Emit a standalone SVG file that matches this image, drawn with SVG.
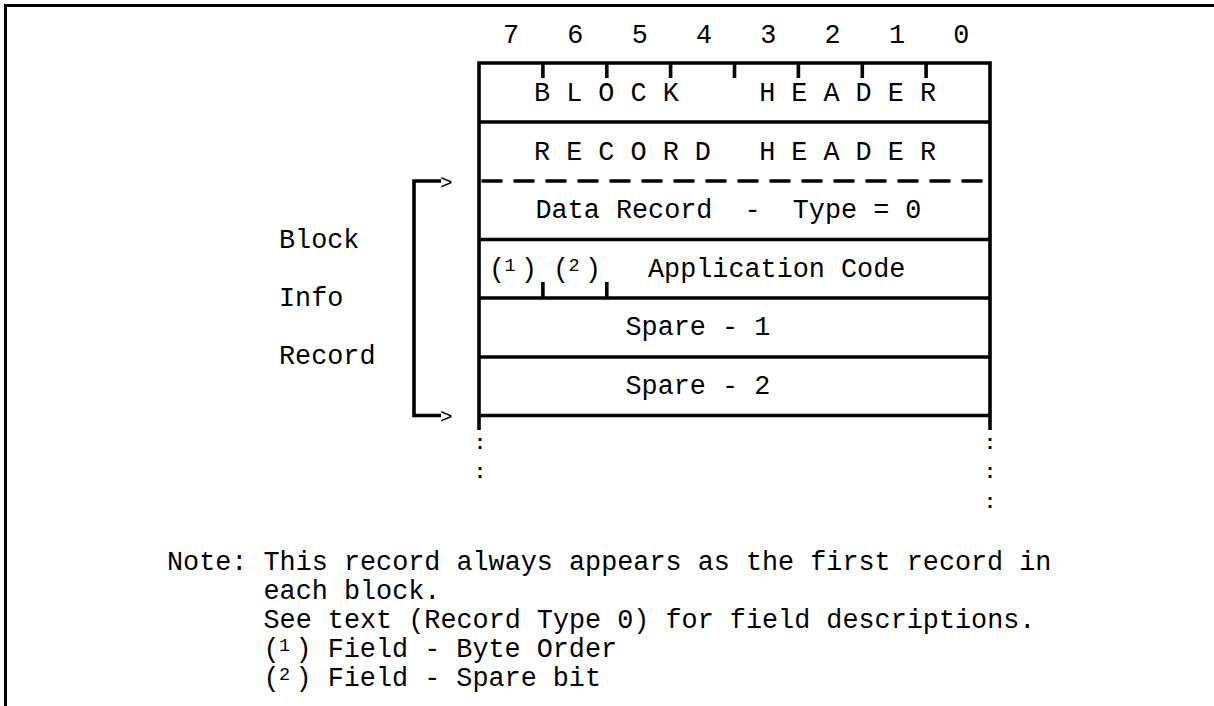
<svg xmlns="http://www.w3.org/2000/svg" width="1214" height="706" viewBox="0 0 1214 706">
  <style>
    text { font-family: "Liberation Mono", "DejaVu Sans Mono", monospace; font-size: 26.8px; fill: #000; white-space: pre; }
    .sup { font-size: 18.5px; }
    .dots { font-size: 20px; font-weight: bold; }
    .frame { fill: none; stroke: #000; stroke-width: 3; }
    .rule { stroke: #000; stroke-width: 3.6; fill: none; stroke-linecap: butt; }
    .dash { stroke: #000; stroke-width: 3.6; fill: none; stroke-dasharray: 21 11; }
    .brk { stroke: #000; stroke-width: 3.6; fill: none; }
    .arrowhead { font-size: 21px; }
  </style>

  <rect width="1214" height="706" fill="#fff"/>

  <!-- page frame: top and left edges -->
  <path class="frame" d="M5.5,706 V5.5 H1214"/>

  <!-- bit numbering above the byte layout -->
  <g id="bit-numbers">
    <text x="503" y="43">7   6   5   4   3   2   1   0</text>
  </g>

  <!-- record layout box: outer verticals continue into the ellipsis -->
  <g id="layout-frame">
    <path class="rule" d="M479,61.2 V430 M990,61.2 V430 M477.2,63 H991.8"/>
  </g>

  <g id="row-block-header">
    <path class="rule" d="M542.9,63 V78 M606.8,63 V78 M670.6,63 V78 M734.5,63 V78 M798.4,63 V78 M862.3,63 V78 M926.1,63 V78"/>
    <text x="534" y="101">B L O C K     H E A D E R</text>
    <path class="rule" d="M479,122 H990"/>
  </g>

  <g id="row-record-header">
    <text x="534" y="160">R E C O R D   H E A D E R</text>
    <path class="dash" d="M481.5,181 H990"/>
  </g>

  <g id="row-data-record">
    <text x="535.5" y="218">Data Record  -  Type = 0</text>
    <path class="rule" d="M479,239.5 H990"/>
  </g>

  <g id="row-application-code">
    <text x="489" y="277">(<tspan class="sup" x="504.5" dy="-6.5">1</tspan><tspan x="521" dy="6.5">)</tspan></text>
    <text x="553" y="277">(<tspan class="sup" x="568.5" dy="-6.5">2</tspan><tspan x="585" dy="6.5">)</tspan></text>
    <text x="648" y="277">Application Code</text>
    <path class="rule" d="M542.9,282 V298 M606.8,282 V298"/>
    <path class="rule" d="M479,298 H990"/>
  </g>

  <g id="row-spare-1">
    <text x="625.5" y="335">Spare - 1</text>
    <path class="rule" d="M479,357 H990"/>
  </g>

  <g id="row-spare-2">
    <text x="625.5" y="394">Spare - 2</text>
    <path class="rule" d="M479,415.5 H990"/>
  </g>

  <g id="continuation">
    <text class="dots" x="480" y="449" text-anchor="middle">:</text>
    <text class="dots" x="480" y="478" text-anchor="middle">:</text>
    <text class="dots" x="990" y="449" text-anchor="middle">:</text>
    <text class="dots" x="990" y="478" text-anchor="middle">:</text>
    <text class="dots" x="990" y="508" text-anchor="middle">:</text>
  </g>

  <g id="block-info-label">
    <text x="279" y="248">Block</text>
    <text x="279" y="306">Info</text>
    <text x="279" y="364">Record</text>
  </g>

  <!-- bracket spanning the Block Info Record rows -->
  <g id="connectors">
    <path class="brk" d="M441,181 H414 V415.5 H441"/>
    <text class="arrowhead" x="440" y="188.5">&gt;</text>
    <text class="arrowhead" x="440" y="423">&gt;</text>
  </g>

  <g id="notes">
    <text x="167" y="570">Note: This record always appears as the first record in</text>
    <text x="263.5" y="599">each block.</text>
    <text x="263.5" y="628">See text (Record Type 0) for field descriptions.</text>
    <text x="263.5" y="657">(<tspan class="sup" x="279" dy="-6.5">1</tspan><tspan x="295.5" dy="6.5">) Field - Byte Order</tspan></text>
    <text x="263.5" y="686">(<tspan class="sup" x="279" dy="-6.5">2</tspan><tspan x="295.5" dy="6.5">) Field - Spare bit</tspan></text>
  </g>
</svg>
